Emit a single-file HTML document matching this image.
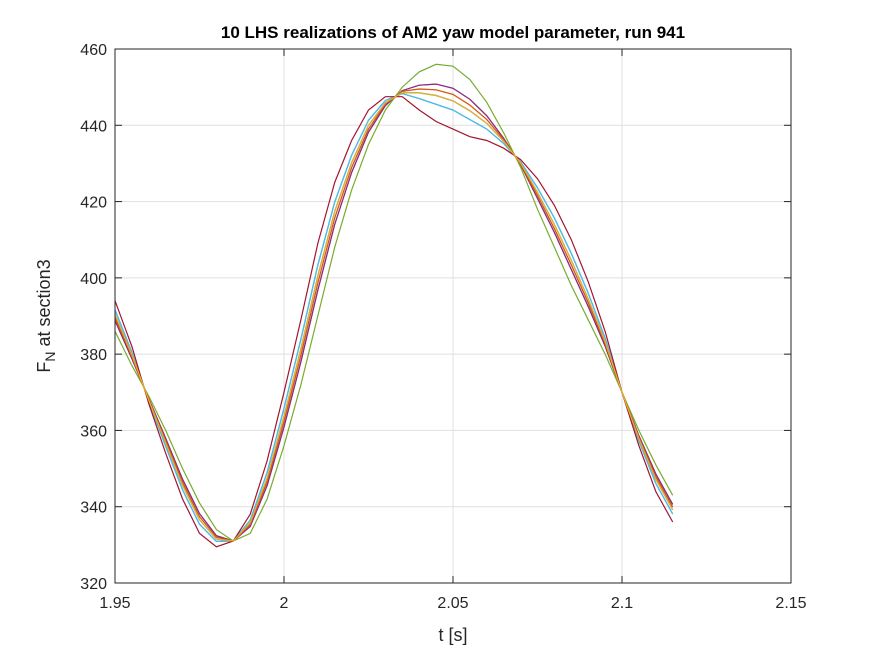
<!DOCTYPE html>
<html><head><meta charset="utf-8"><style>
body{margin:0;background:#fff;font-family:"Liberation Sans",Arial,sans-serif}
</style></head><body>
<svg id="chart" width="875" height="656" xmlns="http://www.w3.org/2000/svg" style="display:block">
<rect width="875" height="656" fill="#fff"/>
<g id="grid"></g>
<g id="series"></g>
<g id="axes"></g>
<text x="453" y="38" text-anchor="middle" font-size="17" font-weight="bold" fill="#000">10 LHS realizations of AM2 yaw model parameter, run 941</text>
<text x="453" y="641" text-anchor="middle" font-size="18" fill="#262626">t [s]</text>
<text transform="translate(50,316) rotate(-90)" text-anchor="middle" font-size="18" fill="#262626">F<tspan font-size="14" dy="5">N</tspan><tspan dy="-5"> at section3</tspan></text>
</svg>
<script>
const times=[1.95,1.955,1.96,1.965,1.97,1.975,1.98,1.985,1.99,1.995,2.0,2.005,2.01,2.015,2.02,2.025,2.03,2.035,2.04,2.045,2.05,2.055,2.06,2.065,2.07,2.075,2.08,2.085,2.09,2.095,2.1,2.105,2.11,2.115];
const seriesCrimson=[394,382,367,354,342,333,329.5,331,338,352,370,389,409,425,436,444,447.5,447.5,444,441,439,437,436,434,431,426,419,410,399,386,370,356,344,336];
const seriesGreen=[386,377,369,360,350,341,334,331,333,342,356,372,390,408,423,435,444,450,454,456,455.5,452,446,438,429,418,408,398,389,380,370,360,351,343];
const seriesA=[391.6,380.5,367.6,355.8,344.4,335.4,330.9,331,336.5,349,365.8,383.9,403.3,419.9,432.1,441.3,446.5,448.3,447,445.5,444,441.5,439,435.2,430.4,423.6,415.7,406.4,396,384.2,370,357.2,346.1,338.1];
const seriesB=[390.4,379.8,367.9,356.7,345.6,336.6,331.5,331,335.8,347.5,363.7,381.4,400.5,417.4,430.2,440,445.9,448.6,448.5,447.8,446.4,443.8,440.5,435.8,430.1,422.4,414,404.6,394.5,383.3,370,357.8,347.2,339.2];
const seriesC=[389.6,379.3,368.1,357.3,346.4,337.4,332,331,335.3,346.5,362.3,379.7,398.6,415.7,428.9,439,445.6,448.9,449.5,449.3,448.1,445.3,441.5,436.2,429.9,421.6,412.9,403.4,393.5,382.7,370,358.2,347.9,339.9];
const seriesD=[388.8,378.8,368.3,357.9,347.2,338.2,332.4,331,334.8,345.5,360.9,378,396.7,414,427.6,438.2,445.2,449.1,450.5,450.8,449.7,446.8,442.5,436.6,429.7,420.8,411.9,402.2,392.5,382.1,370,358.6,348.6,340.6];
const seriesList=[seriesA,seriesD,seriesC,seriesD,seriesGreen,seriesA,seriesCrimson,seriesB,seriesC,seriesB];
const seriesColors=["#0072BD","#D95319","#EDB120","#7E2F8E","#77AC30","#4DBEEE","#A2142F","#0072BD","#D95319","#EDB120"];
const xTicks=[1.95,2,2.05,2.1,2.15];
const xTickLabels=["1.95","2","2.05","2.1","2.15"];
const yTicks=[320,340,360,380,400,420,440,460];
const yTickLabels=["320","340","360","380","400","420","440","460"];

const X0=115,X1=791,Y0=583,Y1=49,XMIN=1.95,XMAX=2.15,YMIN=320,YMAX=460;
const sx=v=>X0+(v-XMIN)/(XMAX-XMIN)*(X1-X0);
const sy=v=>Y0-(v-YMIN)/(YMAX-YMIN)*(Y0-Y1);
const NS="http://www.w3.org/2000/svg";
function mk(tag,attrs,parent){const e=document.createElementNS(NS,tag);for(const k in attrs)e.setAttribute(k,attrs[k]);parent.appendChild(e);return e;}
const grid=document.getElementById('grid'),axes=document.getElementById('axes'),ser=document.getElementById('series');
xTicks.forEach((t,i)=>{const x=sx(t);
 const g=mk('line',{x1:x,x2:x,y1:Y1,y2:Y0,stroke:'#dfdfdf','stroke-width':1},grid);
 
 
 const tk=mk('line',{x1:x,x2:x,y1:Y0,y2:Y0-7,stroke:'#262626'},axes);
 
 
 const tk2=mk('line',{x1:x,x2:x,y1:Y1,y2:Y1+7,stroke:'#262626'},axes);
 
 
 const l=mk('text',{x:x,y:Y0+25,'text-anchor':'middle','font-size':16,fill:'#262626'},axes);l.textContent=xTickLabels[i];
 
 
});
yTicks.forEach((t,i)=>{const y=sy(t);
 const g=mk('line',{x1:X0,x2:X1,y1:y,y2:y,stroke:'#dfdfdf','stroke-width':1},grid);
 
 
 const tk=mk('line',{x1:X0,x2:X0+7,y1:y,y2:y,stroke:'#262626'},axes);
 
 
 const tk2=mk('line',{x1:X1,x2:X1-7,y1:y,y2:y,stroke:'#262626'},axes);
 
 
 const l=mk('text',{x:X0-8,y:y+6,'text-anchor':'end','font-size':16,fill:'#262626'},axes);l.textContent=yTickLabels[i];
 
 
});
const box=mk('rect',{x:X0,y:Y1,width:X1-X0,height:Y0-Y1,fill:'none',stroke:'#262626','stroke-width':1},axes);


seriesList.forEach((vals,i)=>{
 const d=vals.map((v,j)=>(j?'L':'M')+sx(times[j]).toFixed(1)+','+sy(v).toFixed(1)).join(' ');
 const p=mk('path',{d:d,fill:'none',stroke:seriesColors[i],'stroke-width':1.2},ser);
 
 
});
</script>
</body></html>
